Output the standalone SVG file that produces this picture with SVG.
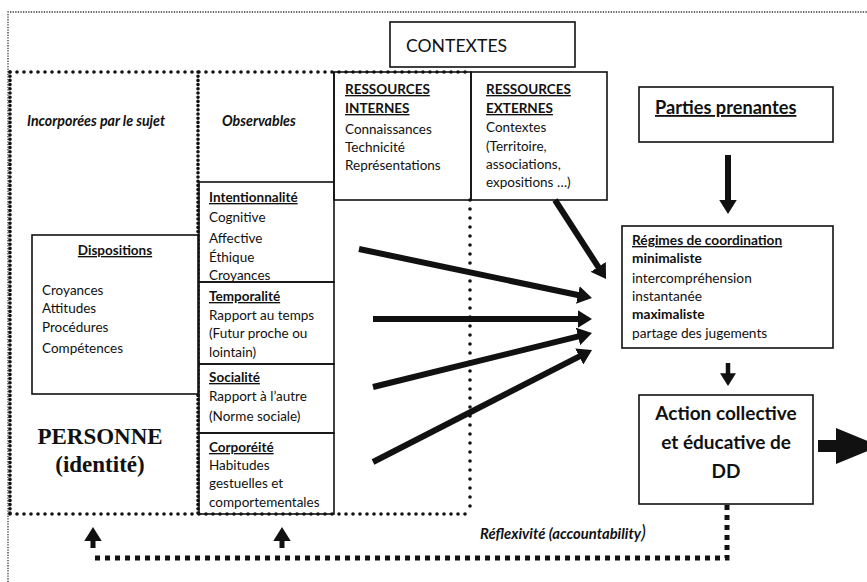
<svg xmlns="http://www.w3.org/2000/svg" width="867" height="582" viewBox="0 0 867 582">
<style>
text{font-family:Lato,"Liberation Sans",sans-serif;fill:#111;font-size:13.5px}
.b{font-weight:bold}
.u{text-decoration:underline}
.i{font-style:italic;font-weight:bold}
.box{fill:none;stroke:#111;stroke-width:1.6}
.fbox{fill:#fff;stroke:#111;stroke-width:1.6}
.dot1{fill:none;stroke:#333;stroke-width:1.3;stroke-dasharray:1.3 1.3}
.dotH{fill:none;stroke:#111;stroke-width:3.6;stroke-linecap:round;stroke-dasharray:0 7}
.dotV{fill:none;stroke:#111;stroke-width:3.6;stroke-linecap:round;stroke-dasharray:0 4.2}
.arr{stroke:#111;stroke-width:6;fill:none;marker-end:url(#ah)}
.dash{fill:none;stroke:#111;stroke-width:5;stroke-dasharray:5 5}
.rg{font-size:13.7px}
</style>
<defs>
<marker id="ah" viewBox="0 0 8 10" refX="2" refY="5" markerUnits="userSpaceOnUse" markerWidth="14.4" markerHeight="18" orient="auto"><path d="M0,0 L8,5 L0,10 z" fill="#111"/></marker>
<marker id="ahs" viewBox="0 0 8 10" refX="2" refY="5" markerUnits="userSpaceOnUse" markerWidth="12.8" markerHeight="16" orient="auto"><path d="M0,0 L8,5 L0,10 z" fill="#111"/></marker>
</defs>
<rect width="867" height="582" fill="#fff"/>

<g id="frames">
<path class="dot1" d="M8,582 V12 H867"/>
<path class="dotH" d="M10,72 H470"/>
<path class="dotH" d="M10,514 H470"/>
<path class="dotV" d="M10,72 V514"/>
<path class="dotV" d="M198,72 V514"/>
<path class="dotV" d="M470,200 V514" style="stroke-dasharray:0 9"/>
</g>

<g id="contextes">
<rect class="box" x="390" y="22" width="185" height="45"/>
<text x="406" y="52" style="font-size:17.6px">CONTEXTES</text>
</g>

<g id="incorporees">
<text class="i" x="27" y="126" style="font-size:14.2px">Incorporées par le sujet</text>
</g>
<g id="observables">
<text class="i" x="222" y="126" style="font-size:14.2px">Observables</text>
<path class="box" d="M334,72 V182"/>
</g>

<g id="dispositions">
<rect class="fbox" x="32" y="235" width="166" height="159"/>
<text class="b u" x="115" y="255" text-anchor="middle">Dispositions</text>
<text x="42" y="295">Croyances</text>
<text x="42" y="313">Attitudes</text>
<text x="42" y="332">Procédures</text>
<text x="42" y="353">Compétences</text>
</g>

<g id="personne">
<text x="100" y="444" text-anchor="middle" style="font-family:'Liberation Serif',serif;font-weight:bold;font-size:23px">PERSONNE</text>
<text x="100" y="472" text-anchor="middle" style="font-family:'Liberation Serif',serif;font-weight:bold;font-size:23px">(identité)</text>
</g>

<g id="intentionnalite">
<rect class="box" x="199" y="182" width="135" height="100"/>
<text class="b u" x="209" y="202">Intentionnalité</text>
<text x="209" y="222">Cognitive</text>
<text x="209" y="243">Affective</text>
<text x="209" y="262">Éthique</text>
<text x="209" y="280">Croyances</text>
</g>
<g id="temporalite">
<rect class="box" x="199" y="282" width="135" height="82"/>
<text class="b u" x="209" y="301">Temporalité</text>
<text x="209" y="320">Rapport au temps</text>
<text x="209" y="338">(Futur proche ou</text>
<text x="209" y="357">lointain)</text>
</g>
<g id="socialite">
<rect class="box" x="199" y="364" width="135" height="69"/>
<text class="b u" x="209" y="382">Socialité</text>
<text x="209" y="401">Rapport à l’autre</text>
<text x="209" y="421">(Norme sociale)</text>
</g>
<g id="corporeite">
<rect class="box" x="199" y="433" width="135" height="81"/>
<text class="b u" x="209" y="452">Corporéité</text>
<text x="209" y="470">Habitudes</text>
<text x="209" y="488">gestuelles et</text>
<text x="209" y="507">comportementales</text>
</g>

<g id="ressources-internes">
<rect class="box" x="334" y="72" width="137" height="128"/>
<text class="b u" x="345" y="94">RESSOURCES</text>
<text class="b u" x="345" y="113">INTERNES</text>
<text x="345" y="134">Connaissances</text>
<text x="345" y="152">Technicité</text>
<text x="345" y="170">Représentations</text>
</g>
<g id="ressources-externes">
<rect class="box" x="471" y="72" width="136" height="128"/>
<text class="b u" x="486" y="94">RESSOURCES</text>
<text class="b u" x="486" y="113">EXTERNES</text>
<text x="486" y="132">Contextes</text>
<text x="486" y="151">(Territoire,</text>
<text x="486" y="169">associations,</text>
<text x="486" y="187">expositions …)</text>
</g>

<g id="parties-prenantes">
<rect class="box" x="639" y="87" width="194" height="55"/>
<text class="b u" x="655" y="114" style="font-size:18.2px">Parties prenantes</text>
</g>

<g id="regimes">
<rect class="box" x="622" y="226" width="211" height="122"/>
<text class="b u rg" x="632" y="245">Régimes de coordination</text>
<text class="b rg" x="632" y="263">minimaliste</text>
<text class="rg" x="632" y="283">intercompréhension</text>
<text class="rg" x="632" y="301">instantanée</text>
<text class="b rg" x="632" y="319">maximaliste</text>
<text class="rg" x="632" y="338">partage des jugements</text>
</g>

<g id="action">
<rect class="box" x="639" y="395" width="174" height="109"/>
<text class="b" x="726" y="420" text-anchor="middle" style="font-size:19px">Action collective</text>
<text class="b" x="726" y="449" text-anchor="middle" style="font-size:19px">et éducative de</text>
<text class="b" x="726" y="478" text-anchor="middle" style="font-size:19px">DD</text>
</g>

<g id="reflexivite">
<text class="i" x="480" y="539" style="font-size:14.8px">Réflexivité (accountability<tspan style="font-size:19px;font-weight:normal">)</tspan></text>
</g>

<g id="connectors">
<line class="arr" x1="359" y1="249" x2="581.4" y2="295.8"/>
<line class="arr" x1="373" y1="319" x2="581.2" y2="319"/>
<line class="arr" x1="373" y1="387" x2="581.5" y2="335.6"/>
<line class="arr" x1="373" y1="462" x2="582.4" y2="354.9"/>
<line class="arr" x1="555" y1="200" x2="600.2" y2="269.9"/>
<line class="arr" x1="728" y1="155" x2="728" y2="203.2"/>
<line x1="728" y1="363" x2="728" y2="376.4" stroke="#111" stroke-width="4.5" marker-end="url(#ahs)"/>
<polygon points="818,440 836,440 836,428 880,446 836,464 836,452 818,452" fill="#111"/>
<path class="dash" d="M727,505 V558 H93"/>
<line x1="93" y1="548" x2="93" y2="537.8" stroke="#111" stroke-width="5" marker-end="url(#ah)"/>
<line x1="282" y1="548" x2="282" y2="537.8" stroke="#111" stroke-width="5" marker-end="url(#ah)"/>
</g>
</svg>
